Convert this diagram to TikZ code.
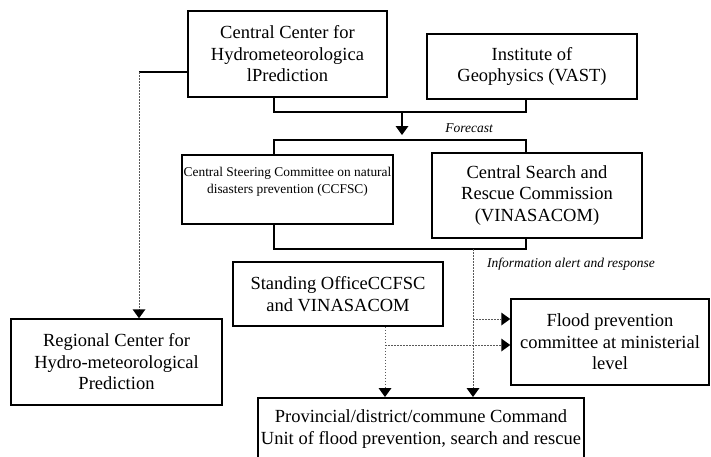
\documentclass[tikz,border=0pt]{standalone}
\usepackage{fontspec}
\setmainfont{Liberation Serif}
\usetikzlibrary{arrows.meta}
\begin{document}
\begin{tikzpicture}[x=1pt,y=-1pt,
  box/.style={draw, line width=1.5pt, align=center, inner sep=0pt,
    font=\fontsize{18.5}{21.5}\selectfont},
  smalltext/.style={align=center, inner sep=0pt, font=\fontsize{13.4}{17}\selectfont},
  bigtext/.style={align=center, inner sep=0pt, font=\fontsize{18.5}{22}\selectfont},
  itlabel/.style={inner sep=0pt, font=\fontsize{13.5}{16}\selectfont\itshape},
  thickline/.style={line width=2.4pt},
  dotline/.style={draw=black!65, line width=0.7pt, dash pattern=on 1.5pt off 1.5pt},
  tip/.style={-{Triangle[width=13pt,length=9pt,color=black,fill=black,line width=0pt]}}
]
\useasboundingbox (0,0) rectangle (711,456);
\clip (0,0) rectangle (711,456);

% boxes
\node[box, minimum width=199, minimum height=86] (cchp) at (287.5,54)
  {Central Center for\\Hydrometeorologica\\lPrediction};
\node[box, minimum width=210, minimum height=65] (igp) at (532,66.5)
  {Institute of\\Geophysics (VAST)};
\node[box, minimum width=211, minimum height=69] (ccfsc) at (287.5,189.5) {};
\node[smalltext] (ccfsctext) at (287.5,182)
  {Central Steering Committee on natural\\disasters prevention (CCFSC)};
\node[box, minimum width=210, minimum height=85] (vina) at (537,195.5)
  {Central Search and\\Rescue Commission\\(VINASACOM)};
\node[box, minimum width=211, minimum height=86] (region) at (116.5,362)
  {Regional Center for\\Hydro-meteorological\\Prediction};
\node[box, minimum width=210, minimum height=64] (standing) at (338,294)
  {Standing OfficeCCFSC\\and VINASACOM};
\node[box, minimum width=198, minimum height=86] (flood) at (610,342)
  {Flood prevention\\committee at ministerial\\level};
\node[box, minimum width=326, minimum height=80, anchor=north] (prov) at (421,397) {};
\node[bigtext] (provtext) at (421,429)
  {Provincial/district/commune Command\\Unit of flood prevention, search and rescue};

% labels
\node[itlabel] (fclabel) at (469,128) {Forecast};
\node[itlabel] (infolabel) at (571,264) {Information alert and response};

% coordinates
\coordinate (a1) at (274,112);
\coordinate (a2) at (526,112);
\coordinate (fc) at (402,112);
\coordinate (fcend) at (402,135);
\coordinate (b1) at (274,140);
\coordinate (b2) at (526,140);
\coordinate (c1) at (274,249);
\coordinate (c2) at (526,249);
\coordinate (l1) at (139,72);
\coordinate (d1) at (473,249);
\coordinate (d2) at (473,319);
\coordinate (s1) at (385,345);

% solid connectors
\draw[thickline] (cchp.south -| a1) -- (a1) -- (a2) -- (igp.south -| a2);
\draw[thickline, tip] (fc) -- (fcend);
\draw[thickline] (ccfsc.north -| b1) -- (b1) -- (b2) -- (vina.north -| b2);
\draw[thickline] (ccfsc.south -| c1) -- (c1) -- (c2) -- (vina.south -| c2);
\draw[thickline] (l1) -- (l1 -| cchp.west);

% dotted connectors
\draw[dotline, tip] (l1) -- (region.north -| l1);
\draw[dotline, tip] (d1) -- (d1 |- prov.north);
\draw[dotline, tip] (d2) -- (d2 -| flood.west);
\draw[dotline, tip] (standing.south -| s1) -- (s1 |- prov.north);
\draw[dotline, tip] (s1) -- (s1 -| flood.west);
\end{tikzpicture}
\end{document}
